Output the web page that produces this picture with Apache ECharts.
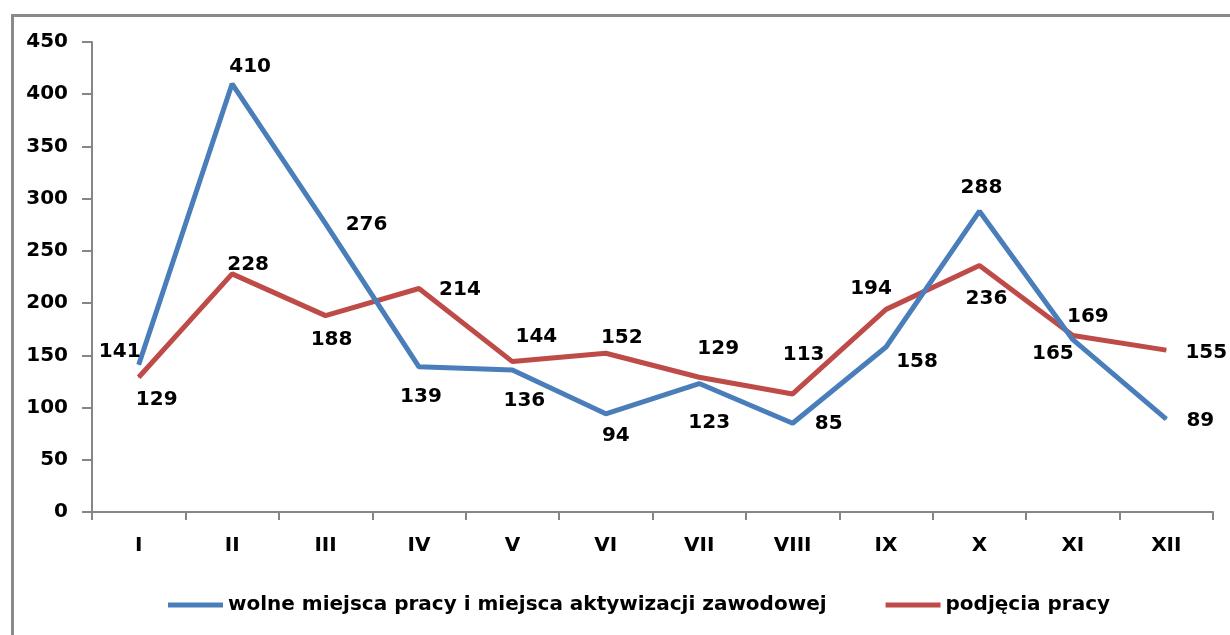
<!DOCTYPE html>
<html>
<head>
    <meta charset="utf-8">
    <script src="https://cdn.jsdelivr.net/npm/echarts@6/dist/echarts.min.js"></script>
    <style>
        html, body { margin: 0; padding: 0; background: #fff; }
    </style>
</head>
<body>
<div id="echartsMain" style="width: 1230px; height: 635px;"></div>

<script type="text/javascript">
    // months (roman)
    let months = ['I', 'II', 'III', 'IV', 'V', 'VI', 'VII', 'VIII', 'IX', 'X', 'XI', 'XII']

    let wolneName = 'wolne miejsca pracy i miejsca aktywizacji zawodowej'
    let wolne = [141, 410, 276, 139, 136, 94, 123, 85, 158, 288, 165, 89]

    let podjeciaName = 'podjęcia pracy'
    let podjecia = [129, 228, 188, 214, 144, 152, 129, 113, 194, 236, 169, 155]

    let yTicks = [0, 50, 100, 150, 200, 250, 300, 350, 400, 450]

    // where each value label sits relative to its point (px)
    let wolneLabelShift = [[-19, -13], [18, -17], [41, 1], [2, 30], [12, 31], [10, 22],
        [10, 39], [36, 1], [31, 15], [2, -23], [-20, 14], [34, 2]]
    let podjeciaLabelShift = [[18, 23], [16, -9], [6, 24], [41, 1], [24, -25], [16, -15],
        [19, -28], [11, -39], [-15, -21], [7, 33], [15, -19], [40, 3]]

    const FONT = 'DejaVu Sans'

    function withLabels(vals, shifts) {
        return vals.map((v, i) => ({
            value: v,
            label: { offset: shifts[i] }
        }))
    }

    let myChart = echarts.init(document.getElementById('echartsMain'))

    let labelStyle = {
        show: true,
        position: 'inside',
        align: 'center',
        verticalAlign: 'middle',
        color: '#000',
        fontFamily: FONT,
        fontWeight: 'bold',
        fontSize: 20
    }

    let option = {
        animation: false,
        backgroundColor: '#fff',
        graphic: [{
            type: 'rect',
            left: 10,
            top: 13,
            shape: { width: 1240, height: 640 },
            style: { fill: 'none', stroke: '#8a8a8a', lineWidth: 3 },
            z: -1
        }],
        grid: {
            left: 92,
            right: 17,
            top: 42,
            bottom: 123
        },
        legend: {
            left: 163,
            top: 590,
            itemWidth: 55,
            itemHeight: 5,
            itemGap: 59,
            icon: 'rect',
            textStyle: {
                color: '#000',
                fontFamily: FONT,
                fontWeight: 'bold',
                fontSize: 20
            },
            data: [wolneName, podjeciaName]
        },
        xAxis: {
            type: 'category',
            data: months,
            boundaryGap: true,
            axisLine: { lineStyle: { color: '#868686', width: 2 } },
            axisTick: { show: true, length: 8, interval: 0, lineStyle: { color: '#868686', width: 2 } },
            axisLabel: {
                margin: 24,
                interval: 0,
                color: '#000',
                fontFamily: FONT,
                fontWeight: 'bold',
                fontSize: 20
            },
            splitLine: { show: false }
        },
        yAxis: {
            type: 'value',
            min: yTicks[0],
            max: yTicks[yTicks.length - 1],
            interval: yTicks[1] - yTicks[0],
            axisLine: { show: true, lineStyle: { color: '#868686', width: 2 } },
            axisTick: { show: true, length: 10, lineStyle: { color: '#868686', width: 2 } },
            axisLabel: {
                margin: 24,
                color: '#000',
                fontFamily: FONT,
                fontWeight: 'bold',
                fontSize: 20
            },
            splitLine: { show: false }
        },
        series: [
            {
                name: wolneName,
                type: 'line',
                data: withLabels(wolne, wolneLabelShift),
                symbol: 'circle',
                symbolSize: 1,
                color: '#4a7ebb',
                lineStyle: { width: 5, color: '#4a7ebb' },
                label: labelStyle,
                z: 3
            },
            {
                name: podjeciaName,
                type: 'line',
                data: withLabels(podjecia, podjeciaLabelShift),
                symbol: 'circle',
                symbolSize: 1,
                color: '#be4b48',
                lineStyle: { width: 5, color: '#be4b48' },
                label: labelStyle,
                z: 2
            }
        ]
    }
    myChart.setOption(option)
</script>
</body>
</html>
